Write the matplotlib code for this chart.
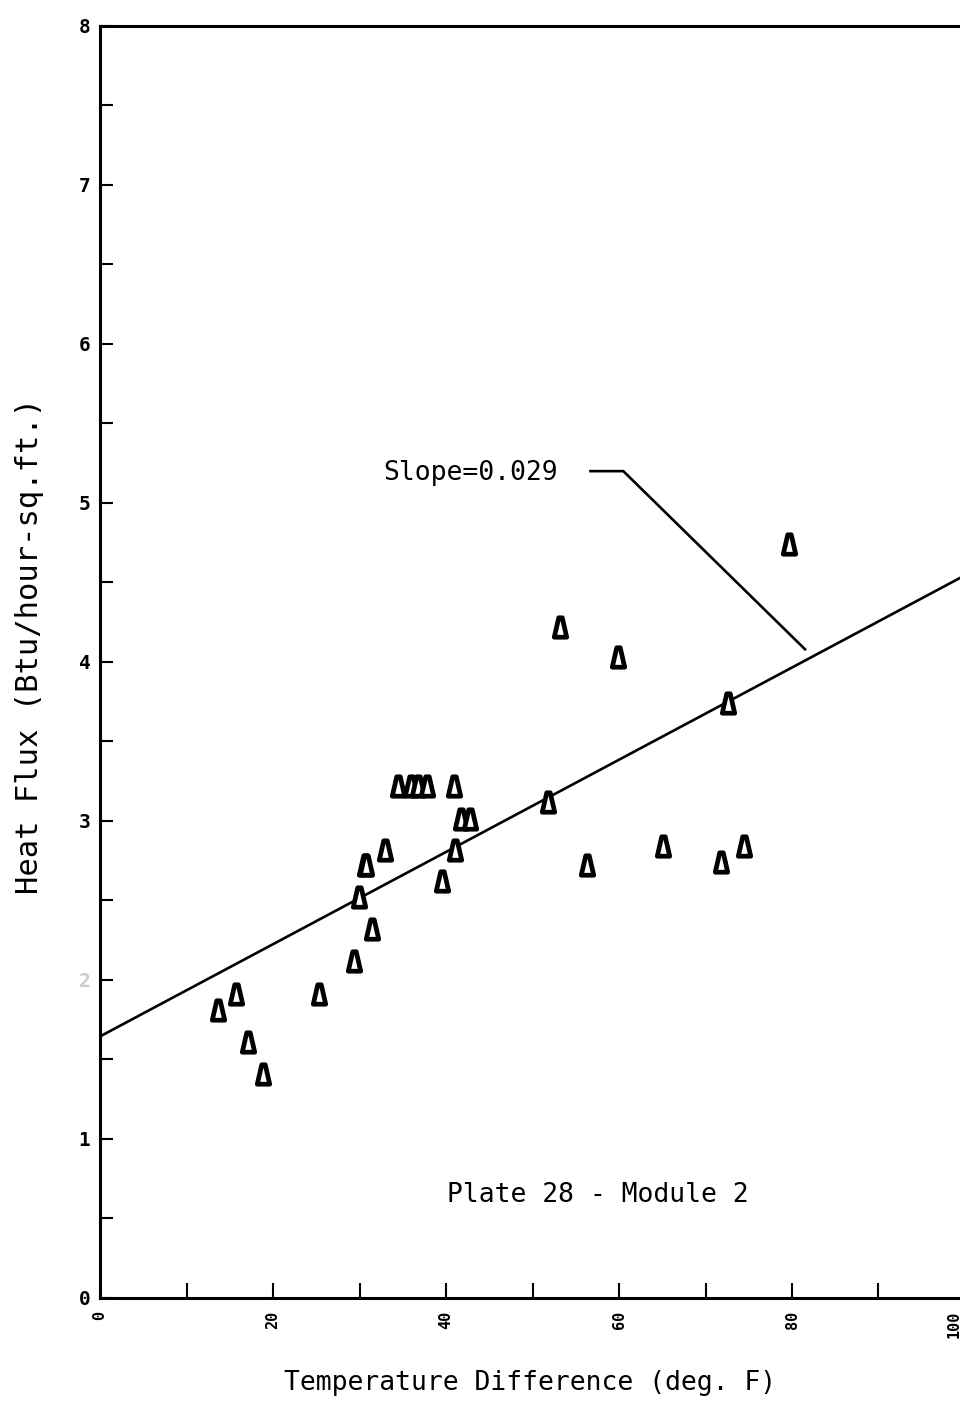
import matplotlib
matplotlib.use("Agg")
import matplotlib.pyplot as plt
import numpy as np
from matplotlib.path import Path

# measured points (temperature difference, heat flux)
temp_diff = [13.6, 15.7, 17.1, 18.8, 25.3, 29.4, 29.9, 30.6, 30.8, 31.4,
             32.9, 34.5, 36.0, 36.8, 37.8, 40.9, 41.7, 42.8, 41.0, 39.5,
             51.8, 56.3, 65.1, 71.8, 74.4, 79.7, 53.2, 59.9, 72.6]
heat_flux = [1.81, 1.91, 1.61, 1.41, 1.91, 2.12, 2.52, 2.72, 2.72, 2.32,
             2.82, 3.22, 3.22, 3.22, 3.22, 3.22, 3.01, 3.01, 2.82, 2.62,
             3.12, 2.72, 2.84, 2.74, 2.84, 4.74, 4.22, 4.03, 3.74]

slope = 0.029
intercept = 1.645

x_ticks = list(range(0, 101, 10))
x_labels = ["0", "", "20", "", "40", "", "60", "", "80", "", "100"]
y_ticks = list(np.arange(0, 8.01, 0.5))
y_labels = ["0", "", "1", "", "2", "", "3", "", "4", "", "5", "", "6", "", "7", "", "8"]

mono = "DejaVu Sans Mono"

# narrow cone marker, like the plotter "A"
cone = Path([(-0.32, -0.5), (0.32, -0.5), (0.09, 0.5), (-0.09, 0.5), (-0.32, -0.5)],
            [Path.MOVETO, Path.LINETO, Path.LINETO, Path.LINETO, Path.CLOSEPOLY])

fig = plt.figure(figsize=(9.6, 14.09), dpi=100)
ax = fig.add_axes([0.1042, 0.0788, 0.901, 0.9028])

xs = np.array([0, 100])
ax.plot(xs, intercept + slope * xs, color="black", lw=1.9, zorder=2)
ax.plot(temp_diff, heat_flux, linestyle="none", marker=cone, ms=14,
        mfc="white", mec="black", mew=3.4, zorder=3)

ax.set_xlim(0, 100)
ax.set_ylim(0, 8)
ax.set_xticks(x_ticks)
# the last label sits on the cropped edge, so it is placed by hand below
ax.set_xticklabels(x_labels[:-1] + [""], rotation=90, fontsize=11,
                   fontweight="bold", family=mono)
ax.annotate(x_labels[-1], xy=(x_ticks[-1], 0), xycoords=("data", "axes fraction"),
            xytext=(-8, -9), textcoords="offset points", rotation=90,
            ha="center", va="top", fontsize=11, fontweight="bold", family=mono)
ax.set_yticks(y_ticks)
ax.set_yticklabels(y_labels, fontsize=14, fontweight="bold", family=mono)
for t in ax.get_yticklabels():
    if t.get_text() == "2":
        t.set_color("#cccccc")
ax.tick_params(axis="x", direction="in", length=11, width=1.5, pad=9)
ax.tick_params(axis="y", direction="in", length=9, width=1.5, pad=7)
for side in ["left", "bottom", "top"]:
    ax.spines[side].set_linewidth(2.2)
ax.spines["right"].set_visible(False)

ax.text(32.7, 5.19, "Slope=0.029", fontsize=19, family=mono, va="center", ha="left")
ax.plot([56.7, 60.5, 81.5], [5.20, 5.20, 4.08], color="black", lw=1.9)
ax.text(57.5, 0.65, "Plate 28 - Module 2", fontsize=19, family=mono, va="center", ha="center")

fig.text(0.552, 1 - 1383 / 1409, "Temperature Difference (deg. F)", fontsize=19,
         family=mono, ha="center", va="center")
fig.text(30 / 960, 1 - 646 / 1409, "Heat Flux (Btu/hour-sq.ft.)", fontsize=22,
         family=mono, ha="center", va="center", rotation=90)

fig.savefig("out.png", dpi=100)
